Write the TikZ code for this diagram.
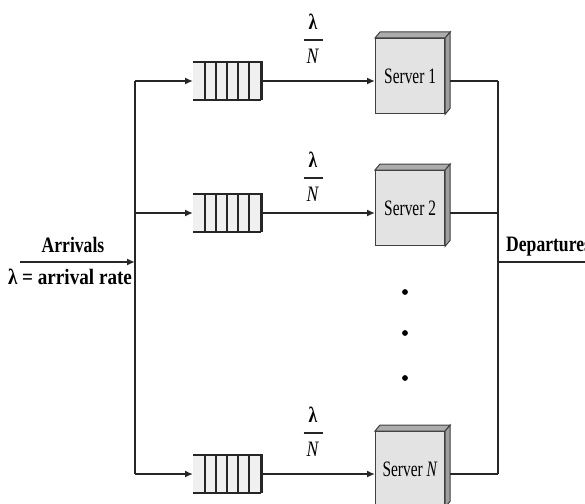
\documentclass[tikz,border=0pt]{standalone}
\usepackage{fontspec}
\setmainfont{Liberation Serif}
\newfontfamily\cond[FakeStretch=0.8]{Liberation Serif}
\newfontfamily\condw[FakeStretch=0.87]{Liberation Serif}
\newfontfamily\condn[FakeStretch=0.7]{Liberation Serif}
\usetikzlibrary{arrows.meta}
\begin{document}
\begin{tikzpicture}[x=1pt,y=-1pt,
  wire/.style={line width=2.3pt,draw=black!85},
  arr/.style={wire,-{Latex[length=8pt,width=7pt]}},
  qbox/.style={line width=2.3pt,draw=black!85},
  lbl/.style={inner sep=0pt,font=\cond\fontsize{20}{22}\selectfont},
  fr/.style={inner sep=0pt,font=\cond\fontsize{22}{22}\selectfont}]
\useasboundingbox (0,0) rectangle (585,503);
% split points
\coordinate (in) at (20,262);
\coordinate (sp) at (135,262);
\coordinate (t1) at (135,81);
\coordinate (t2) at (135,213);
\coordinate (t3) at (135,474);
\coordinate (o1) at (498,81);
\coordinate (o2) at (498,213);
\coordinate (o3) at (498,474);
\coordinate (od) at (498,262);
\coordinate (out) at (595,262);
% arrivals
\draw[arr] (in) -- (sp);
\node[lbl,font=\cond\bfseries\fontsize{22}{22}\selectfont,anchor=base] (arrl) at (73,252) {Arrivals};
\node[lbl,font=\condw\bfseries\fontsize{22}{22}\selectfont,anchor=base] (ratel) at (70,284) {λ = arrival rate};
\draw[wire] (t1) -- (t3);
% rows
\foreach \i/\y/\name/\fy in {1/81/Server 1/40, 2/213/Server 2/178, 3/474/Server \textit{N}/433}{
  % queue
  \node[inner sep=0pt,minimum width=68pt,minimum height=38pt,anchor=west] (q\i) at (193,\y) {};
  \fill[gray!12] (q\i.north west) rectangle (q\i.south east);
  \draw[qbox] (q\i.north west) -- (q\i.north east) -- (q\i.south east);
  \draw[qbox] (q\i.south west) -- (q\i.south east);
  \foreach \bx in {12,23,34,45,56}{
    \draw[line width=2pt,draw=black!85] ([xshift=\bx pt]q\i.north west) -- ([xshift=\bx pt]q\i.south west);
  }
  % server
  \node[draw=black!75,line width=1.2pt,fill=gray!22,minimum width=69pt,minimum height=75pt,inner sep=0pt,anchor=north west,font=\condn\fontsize{22}{22}\selectfont] (s\i) at (375,\y-43) {\raisebox{-6pt}{\name}};
  \fill[gray!65,draw=black!75,line width=1pt] (s\i.north west) -- ++(5,-6) -- ([xshift=5pt,yshift=6pt]s\i.north east) -- (s\i.north east) -- cycle;
  \fill[gray!75,draw=black!75,line width=1pt] (s\i.north east) -- ++(5,-6) -- ([xshift=5pt,yshift=6pt]s\i.south east) -- (s\i.south east) -- cycle;
  \draw[arr] (t\i) -- (q\i.west);
  \draw[arr] (q\i.east) -- (s\i.west |- q\i.east);
  \draw[wire] ([xshift=5pt]s\i.east |- q\i.east) -- (o\i);
  \node[fr,font=\cond\bfseries\fontsize{22}{22}\selectfont] (lam\i) at (313,\fy-18) {λ};
  \node[fr] (n\i) at (313,\fy+16) {\textit{N}};
  \draw[line width=2.3pt,draw=black!85] ([xshift=-9.5pt]lam\i.center |- 0,\fy) -- ([xshift=9.5pt]lam\i.center |- 0,\fy);
}
\draw[wire] (o1) -- (o3);
\draw[arr] (od) -- (out);
\node[lbl,font=\cond\bfseries\fontsize{22}{22}\selectfont,anchor=base west] (depl) at (506,251) {Departures};
% dots
\foreach \dy in {292,333,378}{
  \fill (405,\dy) circle (2.9pt);
}
\end{tikzpicture}
\end{document}
